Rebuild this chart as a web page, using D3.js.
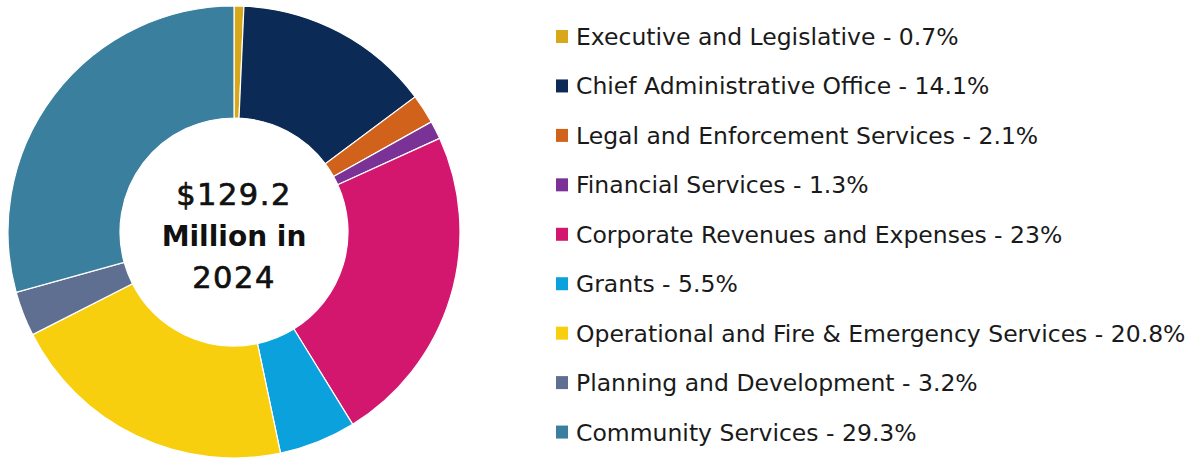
<!DOCTYPE html>
<html>
<head>
<meta charset="utf-8">
<script src="https://cdn.jsdelivr.net/npm/d3@7"></script>
<style>
  html, body { margin: 0; padding: 0; background: #fff; }
  svg { display: block; }
</style>
</head>
<body>
<svg id="chart" width="1188" height="459"></svg>
<script>
// Budget shares by department (percent of total)
const categories = [
  "Executive and Legislative",
  "Chief Administrative Office",
  "Legal and Enforcement Services",
  "Financial Services",
  "Corporate Revenues and Expenses",
  "Grants",
  "Operational and Fire & Emergency Services",
  "Planning and Development",
  "Community Services"
];
const shares = [0.7, 14.1, 2.1, 1.3, 23, 5.5, 20.8, 3.2, 29.3];
const colors = [
  "#D6A81A", "#0C2A56", "#D0621C", "#7A3296", "#D3176F",
  "#0AA1DD", "#F8CF0E", "#5F6F91", "#3A809E"
];
const centerLines = ["$129.2", "Million in", "2024"];

const svg = d3.select("#chart");
const cx = 234, cy = 232, outerR = 226, innerR = 114;

const data = categories.map((c, i) => ({ name: c, value: shares[i], color: colors[i] }));

const pie = d3.pie().value(d => d.value).sort(null);
const arc = d3.arc().innerRadius(innerR).outerRadius(outerR);

const donut = svg.append("g").attr("transform", `translate(${cx},${cy})`);
donut.selectAll("path")
  .data(pie(data))
  .join("path")
  .attr("d", arc)
  .attr("fill", d => d.data.color)
  .attr("stroke", "#fff")
  .attr("stroke-width", 1.2);

// Total in the hole of the donut
const center = donut.append("g")
  .attr("font-family", "DejaVu Sans, sans-serif")
  .attr("fill", "#111")
  .attr("text-anchor", "middle");
const lineY = [-27, 14, 56];
center.selectAll("text")
  .data(centerLines)
  .join("text")
  .attr("x", 0)
  .attr("y", (d, i) => lineY[i])
  .attr("font-size", (d, i) => i === 1 ? 28 : 30.5)
  .attr("font-weight", (d, i) => i === 1 ? "bold" : "normal")
  .attr("letter-spacing", (d, i) => i === 1 ? 0 : 1.5)
  .attr("stroke", (d, i) => i === 1 ? "none" : "#111")
  .attr("stroke-width", 0.7)
  .text(d => d);

// Legend
const legendY = d3.scaleBand()
  .domain(categories)
  .range([14, 459])
  .paddingInner(0);

const legend = svg.append("g").attr("transform", "translate(556,0)");
const rows = legend.selectAll("g")
  .data(data)
  .join("g")
  .attr("transform", d => `translate(0,${legendY(d.name)})`);

rows.append("rect")
  .attr("x", 0)
  .attr("y", 16)
  .attr("width", 12)
  .attr("height", 13)
  .attr("fill", d => d.color);

rows.append("text")
  .attr("x", 20)
  .attr("y", 31)
  .attr("font-family", "DejaVu Sans, sans-serif")
  .attr("font-size", 23.5)
  .attr("fill", "#1a1a1a")
  .text(d => `${d.name} - ${d.value}%`);
</script>
</body>
</html>
